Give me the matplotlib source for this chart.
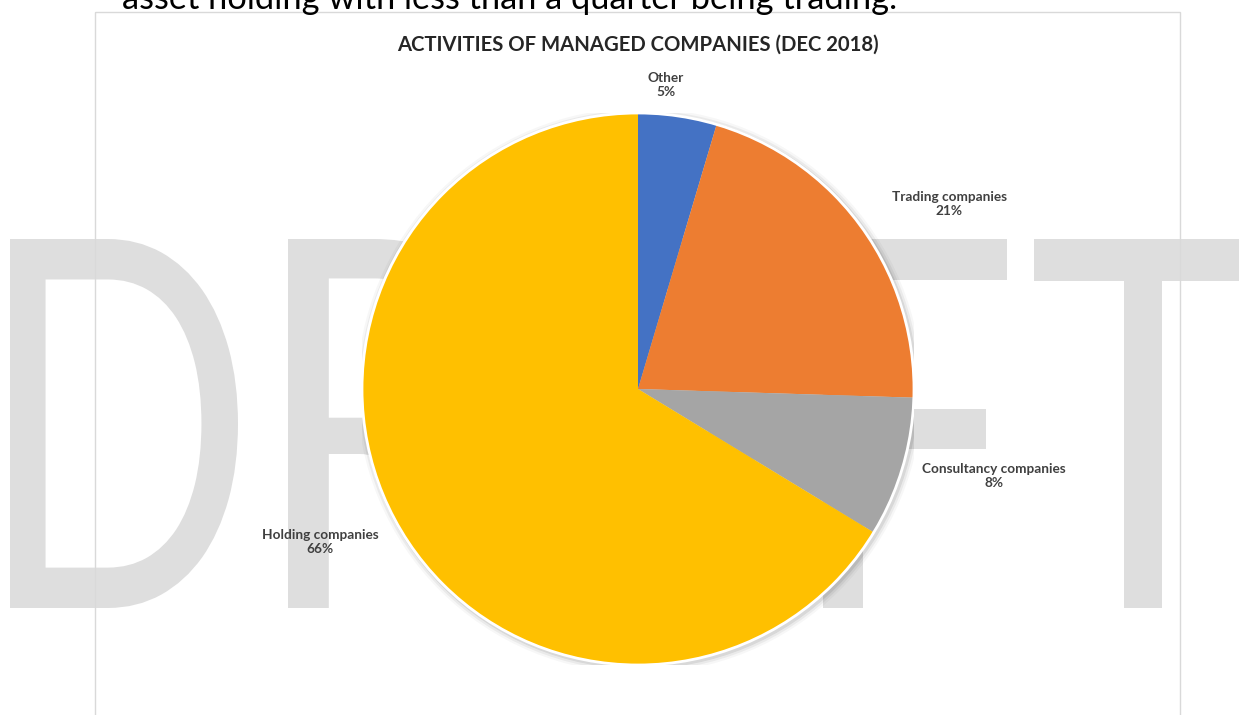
import matplotlib
matplotlib.use("Agg")
import matplotlib.pyplot as plt
from matplotlib.textpath import TextPath
from matplotlib.font_manager import FontProperties
from matplotlib.patches import PathPatch, Rectangle, Circle
from matplotlib.transforms import Affine2D

# data
categories = ["Other", "Trading companies", "Consultancy companies", "Holding companies"]
shares = [4.6, 20.9, 8.2, 66.3]
colors = ["#4472C4", "#ED7D31", "#A5A5A5", "#FFC000"]
title = "ACTIVITIES OF MANAGED COMPANIES (DEC 2018)"
intro = "asset holding with less than a quarter being trading."

W, H = 1239, 715
fig = plt.figure(figsize=(W / 100, H / 100), dpi=100)
fig.patch.set_facecolor("white")

# background layer in pixel coordinates
bg = fig.add_axes([0, 0, 1, 1])
bg.set_xlim(0, W)
bg.set_ylim(H, 0)
bg.axis("off")

# DRAFT watermark, each letter fitted to its box
fp = FontProperties(family=["Lato", "DejaVu Sans"], weight="normal")
letter_boxes = [("D", 10, 238), ("R", 288, 512), ("A", 535, 800),
                ("F", 823, 1007), ("T", 1034, 1252)]
top, bottom = 239, 608
for ch, x0, x1 in letter_boxes:
    tp = TextPath((0, 0), ch, prop=fp, size=100)
    ext = tp.get_extents()
    sx = (x1 - x0) / ext.width
    sy = (bottom - top) / ext.height
    tr = Affine2D().translate(-ext.x0, -ext.y0).scale(sx, -sy).translate(x0, bottom)
    bg.add_patch(PathPatch(tr.transform_path(tp), facecolor="#dedede",
                           edgecolor="none", zorder=1))

# chart frame
bg.add_patch(Rectangle((95, 12), 1180 - 95, 720, fill=False,
                       edgecolor="#d9d9d9", linewidth=1, zorder=2))

renderer = fig.canvas.get_renderer()


def fit_width(t, target):
    w = t.get_window_extent(renderer).width
    t.set_fontsize(t.get_fontsize() * target / w)


t = bg.text(122, 9, intro, fontsize=16, family=["Lato", "DejaVu Sans"],
            color="#000000", va="baseline", ha="left", zorder=3)
fit_width(t, 781)

t = bg.text(637.5, 51, title, fontsize=14, family=["Lato", "DejaVu Sans"],
            fontweight="bold", color="#262626", va="baseline", ha="center", zorder=3)
fit_width(t, 485)

# pie
cx, cy, r = 638, 389, 276
ax = fig.add_axes([(cx - r) / W, (H - cy - r) / H, 2 * r / W, 2 * r / H])
ax.set_zorder(5)
ax.patch.set_visible(False)
for k, a in enumerate([0.08, 0.05, 0.03]):
    ax.add_patch(Circle((0.006, -0.006), 1.0 + 0.008 * (k + 1), facecolor="#000000",
                        alpha=a, edgecolor="none", zorder=0))
wedges, _ = ax.pie(shares, colors=colors, startangle=90, counterclock=False,
                   radius=1, wedgeprops=dict(linewidth=0))
ax.add_patch(Circle((0, 0), 1.0, fill=False, edgecolor="white", linewidth=2, zorder=4))
ax.set_xlim(-1, 1)
ax.set_ylim(-1, 1)
ax.axis("off")

label_pos = [(0.10, 1.10), (1.127, 0.670), (1.29, -0.315), (-1.152, -0.554)]
for name, val, (lx, ly) in zip(categories, shares, label_pos):
    ax.text(lx, ly, f"{name}\n{round(val)}%", ha="center", va="center",
            fontsize=9.8, fontweight="bold", color="#404040",
            family=["Lato", "DejaVu Sans"], linespacing=1.2, zorder=6)

fig.savefig("out.png", dpi=100)
